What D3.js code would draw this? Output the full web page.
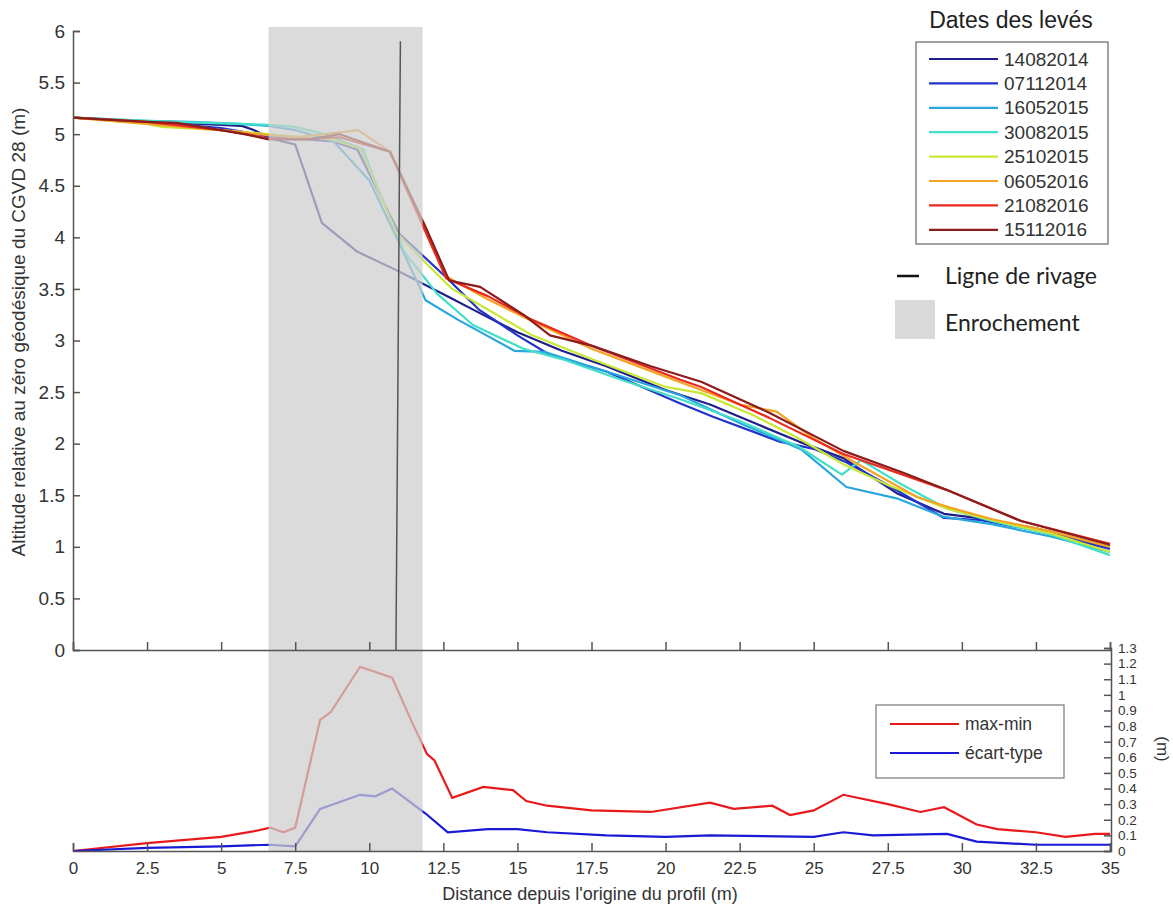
<!DOCTYPE html>
<html><head><meta charset="utf-8">
<script src="https://cdn.jsdelivr.net/npm/d3@7"></script>
<style>body{margin:0;background:#fff}svg{display:block}</style>
</head><body>
<svg id="c" width="1173" height="905"></svg>
<script>
// ---------- DATA ----------
const surveyDates = ["14082014","07112014","16052015","30082015","25102015","06052016","21082016","15112016"];
const surveyColors = ["#1f1f8c","#2233cc","#2aa6de","#40e0c8","#c8e835","#f4a324","#ea2a1e","#8b1c1c"];
const s14082014 = [[0,5.16],[2.5,5.12],[3.5,5.11],[5.0,5.09],[5.7,5.08],[6.1,5.04],[6.65,4.96],[7.5,4.9],[8.4,4.14],[9.6,3.86],[11.0,3.67],[12.7,3.42],[13.7,3.27],[15.0,3.08],[16.5,2.9],[18,2.75],[20,2.52],[21.5,2.38],[23,2.2],[24.5,2.02],[26,1.86],[27.8,1.52],[29.4,1.32],[30.5,1.28],[32.5,1.18],[35,1.0]];
const s07112014 = [[0,5.16],[2.5,5.12],[5,5.06],[6.6,4.98],[7.5,4.96],[8.8,4.93],[9.6,4.85],[11.0,4.04],[12.6,3.61],[13.7,3.3],[15,3.05],[16.1,2.86],[18,2.7],[20.5,2.39],[21.6,2.26],[23.85,2.02],[25,1.95],[26.1,1.82],[27.5,1.6],[29.4,1.28],[30.6,1.26],[32.5,1.16],[35,0.98]];
const s16052015 = [[0,5.16],[2.5,5.13],[4,5.12],[5.6,5.1],[6.6,5.08],[7.5,5.04],[8.8,4.93],[10.0,4.55],[11.0,3.95],[11.9,3.39],[13,3.2],[14.9,2.9],[15.9,2.89],[18,2.7],[20.5,2.47],[22.5,2.2],[24.6,1.94],[26.1,1.58],[27.8,1.47],[29.4,1.29],[31,1.22],[33,1.1],[35,0.95]];
const s30082015 = [[0,5.16],[2.5,5.13],[3.4,5.12],[5.6,5.1],[6.6,5.09],[7.5,5.07],[8.5,5.0],[9.8,4.85],[10.15,4.57],[11.2,3.85],[12.3,3.45],[13.5,3.15],[15.2,2.92],[16.5,2.82],[18.5,2.62],[20.5,2.43],[22.5,2.22],[24.5,1.97],[25.95,1.7],[26.6,1.84],[28,1.6],[29.5,1.37],[31,1.25],[33,1.12],[35,0.92]];
const s25102015 = [[0,5.16],[2.5,5.1],[3.0,5.07],[5,5.04],[6.6,5.0],[7.5,4.98],[8.7,4.95],[9.7,4.86],[10.9,4.05],[12.05,3.71],[12.8,3.5],[14,3.3],[15.5,3.05],[17.5,2.82],[20,2.55],[21.2,2.49],[23,2.27],[24.5,2.05],[26,1.8],[27.5,1.6],[29.5,1.37],[31,1.26],[33,1.13],[35,0.95]];
const s06052016 = [[0,5.16],[2.5,5.1],[5,5.04],[6.6,4.99],[7.5,4.97],[8.5,5.0],[9.62,5.04],[10.7,4.83],[11.94,4.04],[12.6,3.62],[14,3.4],[15.4,3.2],[17.5,2.92],[20,2.65],[21.2,2.52],[22.5,2.38],[23.75,2.31],[25,2.05],[26.5,1.8],[28.5,1.48],[29.6,1.38],[31,1.27],[33,1.15],[35,1.0]];
const s21082016 = [[0,5.16],[2.5,5.12],[5,5.04],[6.6,4.96],[7.5,4.95],[9.0,4.97],[10.7,4.83],[11.9,4.05],[12.6,3.6],[14,3.43],[15.5,3.2],[17.5,2.95],[20.5,2.62],[21.2,2.55],[23.5,2.25],[26,1.9],[29.5,1.55],[32,1.25],[35,1.03]];
const s15112016 = [[0,5.16],[2.5,5.12],[3.5,5.11],[5.8,5.0],[6.6,4.95],[8.0,4.95],[9.0,5.0],[10.7,4.83],[11.9,4.1],[12.7,3.58],[13.74,3.52],[15.2,3.25],[16.1,3.05],[17.5,2.95],[19.5,2.75],[21.2,2.6],[23.5,2.3],[26,1.93],[28,1.72],[29.5,1.55],[32,1.25],[35,1.02]];
const profiles = [s14082014,s07112014,s16052015,s30082015,s25102015,s06052016,s21082016,s15112016];

const maxMin = [[0,0],[2.5,0.05],[5,0.09],[6.2,0.13],[6.65,0.15],[7.1,0.12],[7.5,0.15],[8.34,0.84],[8.7,0.89],[9.69,1.18],[10.77,1.11],[11.5,0.8],[11.95,0.62],[12.2,0.58],[12.8,0.34],[13.85,0.41],[14.85,0.39],[15.3,0.32],[16,0.29],[17.5,0.26],[19.5,0.25],[21.5,0.31],[22.3,0.27],[23.6,0.29],[24.2,0.23],[25,0.26],[26,0.36],[27.5,0.3],[28.6,0.25],[29.4,0.28],[30.5,0.17],[31.2,0.14],[32.5,0.12],[33.5,0.09],[34.5,0.11],[35,0.11]];
const stdDev = [[0,0],[2.5,0.02],[5,0.03],[6.6,0.04],[7.5,0.03],[8.34,0.27],[9.69,0.36],[10.2,0.35],[10.77,0.4],[11.9,0.24],[12.65,0.12],[14,0.14],[15,0.14],[16,0.12],[18,0.1],[20,0.09],[21.5,0.1],[25,0.09],[26,0.12],[27,0.1],[29.5,0.11],[30.5,0.06],[32.5,0.04],[35,0.04]];

const xTicks = [0,2.5,5,7.5,10,12.5,15,17.5,20,22.5,25,27.5,30,32.5,35];
const yTicksTop = [0,0.5,1,1.5,2,2.5,3,3.5,4,4.5,5,5.5,6];
const yTicksBottom = [0,0.1,0.2,0.3,0.4,0.5,0.6,0.7,0.8,0.9,1,1.1,1.2,1.3];
const enrochement = [6.6, 11.8];
const shoreline = [[10.9,0],[11.05,5.9]];

// ---------- SCALES ----------
const svg = d3.select("#c");
const FONT = "'Liberation Sans', Arial, sans-serif";
const x = d3.scaleLinear().domain([0,35]).range([73,1110]);
const yT = d3.scaleLinear().domain([0,6]).range([650,31]);
const yB = d3.scaleLinear().domain([0,1.3]).range([851,648]);
const axisCol = "#555";

// lines top
const lineT = d3.line().x(d=>x(d[0])).y(d=>yT(d[1]));
profiles.forEach((p,i)=>{
  svg.append("path").attr("d",lineT(p)).attr("fill","none")
    .attr("stroke",surveyColors[i]).attr("stroke-width",2.2).attr("stroke-linejoin","round");
});
// lines bottom
const lineB = d3.line().x(d=>x(d[0])).y(d=>yB(d[1]));
svg.append("path").attr("d",lineB(maxMin)).attr("fill","none").attr("stroke","#e8191c").attr("stroke-width",2.2);
svg.append("path").attr("d",lineB(stdDev)).attr("fill","none").attr("stroke","#1a1ad6").attr("stroke-width",2.2);

// shading
svg.append("rect").attr("x",x(enrochement[0])).attr("y",27)
  .attr("width",x(enrochement[1])-x(enrochement[0])).attr("height",851-27)
  .attr("fill","#cdcdcd").attr("opacity",0.72);

// shoreline
svg.append("line").attr("x1",x(shoreline[0][0])).attr("y1",yT(shoreline[0][1]))
  .attr("x2",x(shoreline[1][0])).attr("y2",yT(shoreline[1][1]))
  .attr("stroke","#555").attr("stroke-width",1.5);

// axes
const gLeft = svg.append("g").attr("transform","translate(73,0)")
  .call(d3.axisLeft(yT).tickValues(yTicksTop).tickSize(-7).tickPadding(8).tickFormat(d3.format("")));
const gTopX = svg.append("g").attr("transform","translate(0,650)")
  .call(d3.axisBottom(x).tickValues(xTicks).tickSize(-8).tickFormat(""));
const gBotX = svg.append("g").attr("transform","translate(0,851)")
  .call(d3.axisBottom(x).tickValues(xTicks).tickSize(-8).tickPadding(11).tickFormat(d3.format("")));
const gRight = svg.append("g").attr("transform","translate(1111,0)")
  .call(d3.axisRight(yB).tickValues(yTicksBottom).tickSize(-7).tickPadding(5).tickFormat(d3.format("")));
[gLeft,gTopX,gBotX,gRight].forEach(g=>{
  g.selectAll(".domain").attr("stroke",axisCol).attr("stroke-width",1.5);
  g.selectAll(".tick line").attr("stroke",axisCol).attr("stroke-width",1.5);
  g.selectAll(".tick text").attr("fill","#333").style("font-family",FONT).style("font-size","17px");
});
gLeft.selectAll(".tick text").style("font-size","19px");
gRight.selectAll(".tick text").style("font-size","13.5px").attr("x",7);

// axis titles
svg.append("text").attr("transform","translate(25,332) rotate(-90)").attr("text-anchor","middle")
  .style("font-family",FONT).style("font-size","19px").attr("fill","#333")
  .text("Altitude relative au zéro géodésique du CGVD 28 (m)");
svg.append("text").attr("x",590).attr("y",900).attr("text-anchor","middle")
  .style("font-family",FONT).style("font-size","18px").attr("fill","#333")
  .text("Distance depuis l'origine du profil (m)");
svg.append("text").attr("transform","translate(1157,749) rotate(90)").attr("text-anchor","middle")
  .style("font-family",FONT).style("font-size","17px").attr("fill","#333").text("(m)");

// legend top
svg.append("text").attr("x",1011).attr("y",28).attr("text-anchor","middle")
  .style("font-family",FONT).style("font-size","23px").attr("fill","#222").text("Dates des levés");
svg.append("rect").attr("x",916).attr("y",42).attr("width",192).attr("height",202)
  .attr("fill","#fff").attr("stroke","#666").attr("stroke-width",1.2);
surveyDates.forEach((d,i)=>{
  const yy = 59 + i*24.4;
  svg.append("line").attr("x1",929).attr("x2",998).attr("y1",yy).attr("y2",yy)
    .attr("stroke",surveyColors[i]).attr("stroke-width",2.2);
  svg.append("text").attr("x",1004).attr("y",yy+6.5).style("font-family",FONT)
    .style("font-size","19px").attr("fill","#333").text(d);
});
const FONT2 = "Lato, 'Open Sans', sans-serif";
svg.append("line").attr("x1",897).attr("x2",919).attr("y1",276).attr("y2",276).attr("stroke","#111").attr("stroke-width",2.5);
svg.append("text").attr("x",945).attr("y",284).style("font-family",FONT2).style("font-size","23px").attr("fill","#222").text("Ligne de rivage");
svg.append("rect").attr("x",895).attr("y",300).attr("width",40).attr("height",39).attr("fill","#dadada");
svg.append("text").attr("x",945).attr("y",331).style("font-family",FONT2).style("font-size","23px").attr("fill","#222").text("Enrochement");

// legend bottom
svg.append("rect").attr("x",876).attr("y",705).attr("width",188).attr("height",73)
  .attr("fill","#fff").attr("stroke","#777").attr("stroke-width",1.2);
[["max-min","#e8191c",724],["écart-type","#1a1ad6",753]].forEach(([t,c,yy])=>{
  svg.append("line").attr("x1",890).attr("x2",959).attr("y1",yy).attr("y2",yy).attr("stroke",c).attr("stroke-width",2.2);
  svg.append("text").attr("x",965).attr("y",yy+6).style("font-family",FONT).style("font-size","17.5px").attr("fill","#333").text(t);
});
</script>
</body></html>
